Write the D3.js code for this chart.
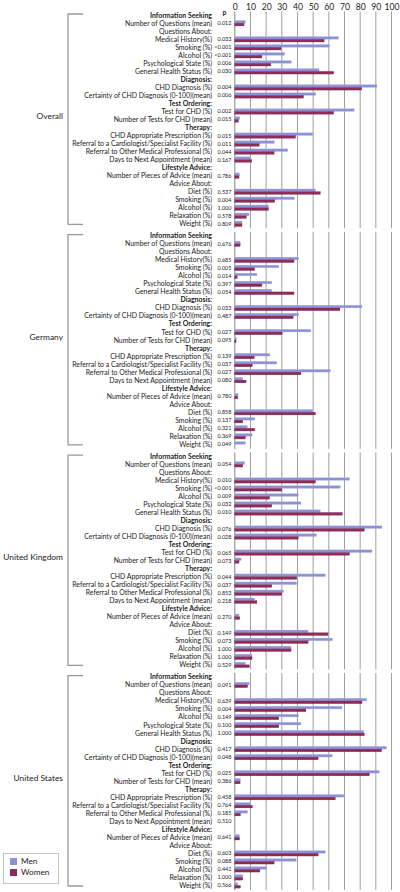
<!DOCTYPE html>
<html><head><meta charset="utf-8">
<script src="https://cdn.jsdelivr.net/npm/d3@7"></script>
<style>body{margin:0;background:#fff} svg{display:block} text{font-family:Lato,"Open Sans",sans-serif;fill:#222}</style>
</head><body><svg id="c" width="400" height="892"></svg>
<script>
const panels = ["Overall","Germany","United Kingdom","United States"];
const series = ["Men","Women"];
const ticks = [0,10,20,30,40,50,60,70,80,90,100];
const rowLabels = [
 "Information Seeking","Number of Questions (mean)","Questions About:","Medical History(%)","Smoking (%)",
 "Alcohol (%)","Psychological State (%)","General Health Status (%)","Diagnosis:","CHD Diagnosis (%)",
 "Certainty of CHD Diagnosis (0-100)(mean)","Test Ordering:","Test for CHD (%)","Number of Tests for CHD (mean)",
 "Therapy:","CHD Appropriate Prescription (%)","Referral to a Cardiologist/Specialist Facility (%)",
 "Referral to Other Medical Professional (%)","Days to Next Appointment (mean)","Lifestyle Advice:",
 "Number of Pieces of Advice (mean)","Advice About:","Diet (%)","Smoking (%)","Alcohol (%)","Relaxation (%)","Weight (%)"];
const rowKinds = ["h","d","s","d","d","d","d","d","h","d","d","h","d","d","h","d","d","d","d","h","d","s","d","d","d","d","d"];

const overallMen   = [6.8,66.2,60.5,31.9,36.1,53.8,90.7,51.7,76.2,3.2,49.8,25.3,33.8,9.9,3.0,51.5,38.2,21.5,9.1,4.6];
const overallWomen = [5.9,57.0,29.5,17.3,23.0,63.1,81.0,43.9,63.1,2.3,38.8,15.6,25.1,10.8,2.7,54.6,25.5,21.5,7.4,4.6];
const overallP = ["0.012","0.033","<0.001","<0.001","0.006","0.030","0.004","0.006","0.002","0.015","0.015","0.011","0.044","0.167","0.786","0.537","0.004","1.000","0.578","0.809"];

const germanyMen   = [3.4,40.7,28.1,14.1,23.6,23.6,81.2,40.7,48.5,1.1,22.4,26.8,61.0,5.1,2.1,49.8,12.7,8.0,11.2,6.8];
const germanyWomen = [3.4,37.8,12.7,1.5,17.3,37.8,67.1,37.3,30.2,0.8,12.4,11.2,42.2,7.2,1.9,51.5,5.1,12.7,6.8,0];
const germanyP = ["0.676","0.685","0.005","0.014","0.397","0.054","0.033","0.487","0.027","0.095","0.139","0.037","0.027","0.080","0.780","0.858","0.137","0.321","0.369","0.049"];

const ukMen   = [6.3,73.2,67.3,40.5,42.2,54.6,93.9,52.1,87.6,4.0,57.8,39.5,31.2,12.7,2.7,46.8,62.4,35.9,11.0,6.8];
const ukWomen = [5.1,51.5,30.0,22.2,23.6,68.6,82.7,40.5,73.2,2.7,39.5,23.6,30.0,14.1,3.2,59.5,46.8,35.9,11.0,9.3];
const ukP = ["0.054","0.010","<0.001","0.009","0.032","0.010","0.076","0.028","0.065","0.073","0.044","0.037","0.853","0.218","0.270","0.149","0.073","1.000","1.000","0.529"];

const usMen   = [9.3,84.2,68.4,40.7,42.2,82.3,96.8,62.2,92.2,3.6,69.6,9.9,8.2,null,3.0,57.8,39.2,20.3,5.1,1.9];
const usWomen = [8.2,81.2,45.4,28.1,28.1,82.7,93.7,53.2,85.9,3.4,64.1,11.2,3.6,null,3.0,53.2,25.1,16.0,5.1,3.6];
const usP = ["0.091","0.639","0.004","0.149","0.100","1.000","0.417","0.048","0.025","0.386","0.458","0.764","0.185","0.510","0.641","0.603","0.088","0.441","1.000","0.566"];

const panelData = [
 {men:overallMen, women:overallWomen, p:overallP},
 {men:germanyMen, women:germanyWomen, p:germanyP},
 {men:ukMen, women:ukWomen, p:ukP},
 {men:usMen, women:usWomen, p:usP}];

const colors = {Men:"#8b91d2", Women:"#8f2b5b"};
const svg = d3.select("#c");
const PANEL_ROWS = 27.5;
const x = d3.scaleLinear().domain([0,100]).range([234.8,391.5]);
const y = d3.scaleLinear().domain([0, 3*PANEL_ROWS+26]).range([15.3, 885.5]);
const sub = d3.scaleBand().domain(series).range([-2.8, 2.6]).paddingInner(0.02);

// axis
const ax = svg.append("g").attr("transform","translate(0,9.5)")
  .call(d3.axisTop(x).tickValues(ticks).tickSize(0).tickPadding(0));
ax.select(".domain").remove();
ax.selectAll("text").attr("font-size","8.6px").attr("font-family","Lato, sans-serif").attr("fill","#222");

svg.append("text").attr("x",224.5).attr("y",12.5).attr("dy","0.35em").attr("text-anchor","middle")
  .attr("font-size","6.8px").attr("font-weight","bold").text("p");

panels.forEach((name,pi)=>{
  const g0 = pi*PANEL_ROWS;
  const top = y(g0) - (pi===0?3.8:4), bot = y(g0+26)+4.5;
  const g = svg.append("g");
  g.selectAll("line.grid").data(ticks).join("line")
    .attr("x1",d=>x(d)).attr("x2",d=>x(d)).attr("y1",top).attr("y2",bot)
    .attr("stroke",d=>d===0?"#666":"#858585").attr("stroke-width",0.8);
  g.selectAll("text.lab").data(rowLabels).join("text")
    .attr("x",212).attr("y",(d,i)=>y(g0+i)).attr("dy","0.35em").attr("text-anchor","end")
    .attr("font-size","6.9px").attr("font-weight",(d,i)=>rowKinds[i]==="h"?"bold":"normal")
    .text(d=>d);
  const dataIdx = rowKinds.map((k,i)=>k==="d"?i:-1).filter(i=>i>=0);
  const pd = panelData[pi];
  const rows = dataIdx.map((ri,j)=>({ri, Men:pd.men[j], Women:pd.women[j], p:pd.p[j]}));
  g.selectAll("text.p").data(rows).join("text")
    .attr("x",231.5).attr("y",d=>y(g0+d.ri)).attr("dy","0.35em").attr("text-anchor","end")
    .attr("font-size","5.5px").attr("fill","#333").text(d=>d.p);
  series.forEach(s=>{
    g.selectAll("rect.b"+s).data(rows.filter(d=>d[s]!=null && d[s]>0)).join("rect")
      .attr("x",x(0)).attr("y",d=>y(g0+d.ri)+sub(s)).attr("height",sub.bandwidth())
      .attr("width",d=>x(d[s])-x(0)).attr("fill",colors[s])
      .attr("stroke",s==="Men"?"#b5b9e6":"#6e1f45").attr("stroke-width",0.3);
  });
  const bt = y(g0)-1.3, bb = y(g0+26)+0.5;
  svg.append("path").attr("d",`M83,${bt}H68V${bb}H83`).attr("fill","none")
    .attr("stroke","#999").attr("stroke-width",1.3);
  svg.append("text").attr("x",63).attr("y",y(g0+12.6)).attr("dy","0.35em").attr("text-anchor","end")
    .attr("font-size","8.4px").attr("fill","#333").text(name);
});

// legend
const lg = svg.append("g");
lg.append("rect").attr("x",3.5).attr("y",853.5).attr("width",55).attr("height",30)
  .attr("fill","#fff").attr("stroke","#c4c4c4").attr("stroke-width",1);
series.forEach((s,i)=>{
  lg.append("rect").attr("x",10).attr("y",858+i*11).attr("width",7).attr("height",7).attr("fill",colors[s]);
  lg.append("text").attr("x",21).attr("y",861.5+i*11).attr("dy","0.35em").attr("font-size","8.2px").text(s);
});
</script></body></html>
